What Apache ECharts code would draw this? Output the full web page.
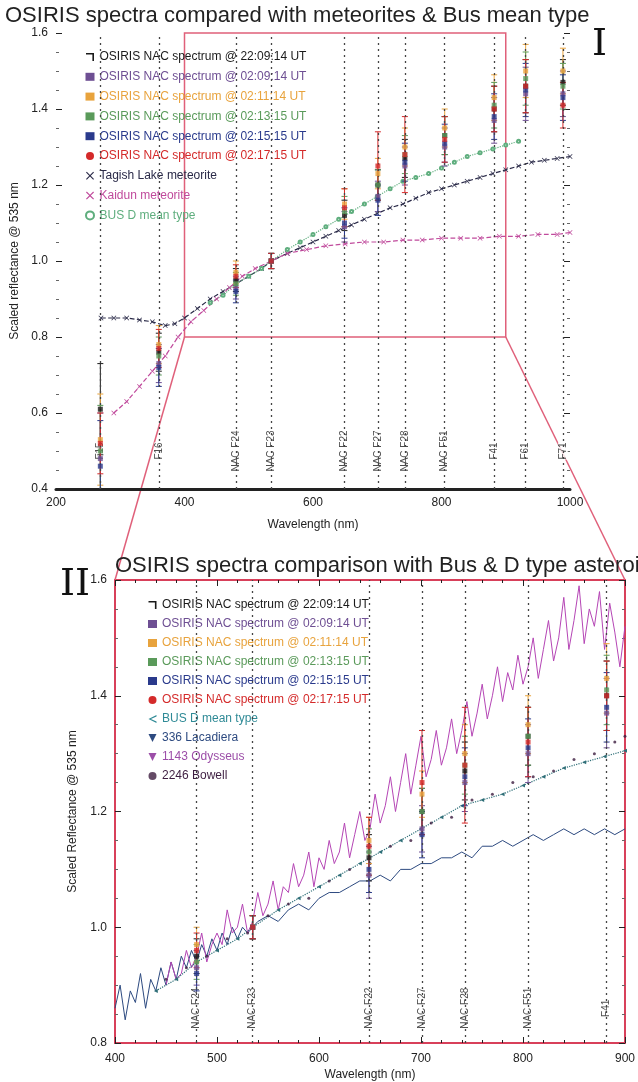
<!DOCTYPE html>
<html>
<head>
<meta charset="utf-8">
<script src="https://cdn.jsdelivr.net/npm/echarts@6/dist/echarts.min.js"></script>
<style>
  html, body { margin: 0; padding: 0; background: #fff; }
  #chart { width: 638px; height: 1082px; }
</style>
</head>
<body>
<div id="chart"></div>
<script>
// OSIRIS NAC filters
const filterNm = [269, 360, 480, 535, 649, 701, 743, 805, 882, 931, 989];
const filterLabel = ['F15', 'F16', 'NAC F24', 'NAC F23', 'NAC F22', 'NAC F27', 'NAC F28', 'NAC F51', 'F41', 'F61', 'F71'];

const osirisNames = [
  'OSIRIS NAC spectrum @ 22:09:14 UT',
  'OSIRIS NAC spectrum @ 02:09:14 UT',
  'OSIRIS NAC spectrum @ 02:11:14 UT',
  'OSIRIS NAC spectrum @ 02:13:15 UT',
  'OSIRIS NAC spectrum @ 02:15:15 UT',
  'OSIRIS NAC spectrum @ 02:17:15 UT'
];
const osirisColors = ['#1a1a1a', '#6e4f93', '#e8a33d', '#5a9a5a', '#2a3a8c', '#d42a2a'];

// scaled reflectance at each filter
const osiris1 = [0.61, 0.76, 0.95, 1.00, 1.12, 1.20, 1.27, 1.33, 1.40, 1.46, 1.47];
const osiris2 = [0.48, 0.73, 0.93, 1.00, 1.09, 1.17, 1.25, 1.30, 1.37, 1.44, 1.44];
const osiris3 = [0.53, 0.78, 0.97, 1.00, 1.15, 1.23, 1.30, 1.35, 1.43, 1.50, 1.50];
const osiris4 = [0.50, 0.75, 0.94, 1.00, 1.13, 1.20, 1.28, 1.33, 1.41, 1.48, 1.46];
const osiris5 = [0.46, 0.72, 0.92, 1.00, 1.10, 1.16, 1.26, 1.31, 1.38, 1.45, 1.43];
const osiris6 = [0.52, 0.77, 0.96, 1.00, 1.14, 1.25, 1.28, 1.32, 1.40, 1.46, 1.41];
const osirisErr = [0.12, 0.05, 0.03, 0.02, 0.04, 0.04, 0.05, 0.05, 0.06, 0.07, 0.06];
const osirisErrRed = [0.08, 0.05, 0.03, 0.02, 0.05, 0.09, 0.10, 0.06, 0.06, 0.07, 0.06];

// meteorites and Bus D mean
const tagishNm = [270, 290, 310, 330, 350, 370, 385, 400, 420, 440, 460, 480, 500, 520, 535, 560, 580, 600, 620, 640, 660, 680, 700, 720, 740, 760, 780, 800, 820, 840, 860, 880, 900, 920, 940, 960, 980, 1000];
const tagishRefl = [0.85, 0.85, 0.85, 0.845, 0.84, 0.83, 0.835, 0.85, 0.875, 0.90, 0.92, 0.94, 0.96, 0.98, 1.00, 1.02, 1.035, 1.05, 1.065, 1.08, 1.095, 1.11, 1.125, 1.14, 1.15, 1.165, 1.18, 1.19, 1.20, 1.21, 1.22, 1.23, 1.24, 1.25, 1.26, 1.265, 1.27, 1.275];

const kaidunNm = [290, 310, 330, 350, 370, 390, 410, 430, 450, 470, 490, 510, 535, 560, 590, 620, 650, 680, 710, 740, 770, 800, 830, 860, 890, 920, 950, 980, 1000];
const kaidunRefl = [0.60, 0.63, 0.67, 0.71, 0.75, 0.80, 0.84, 0.87, 0.90, 0.93, 0.96, 0.98, 1.00, 1.02, 1.03, 1.04, 1.045, 1.05, 1.05, 1.055, 1.055, 1.06, 1.06, 1.06, 1.065, 1.065, 1.07, 1.07, 1.075];

const busNm = [440, 460, 480, 500, 520, 535, 560, 580, 600, 620, 640, 660, 680, 700, 720, 740, 760, 780, 800, 820, 840, 860, 880, 900, 920];
const busRefl = [0.89, 0.91, 0.94, 0.96, 0.98, 1.00, 1.03, 1.05, 1.07, 1.09, 1.11, 1.13, 1.15, 1.17, 1.19, 1.21, 1.22, 1.23, 1.245, 1.26, 1.275, 1.285, 1.295, 1.305, 1.315];

// D-type asteroids (panel II)
const lacNm = [400, 405, 410, 415, 420, 425, 430, 435, 440, 445, 450, 455, 460, 465, 470, 475, 480, 485, 490, 495, 500, 505, 510, 515, 520, 525, 530, 535, 540, 550, 560, 570, 580, 590, 600, 610, 620, 630, 640, 650, 660, 670, 680, 690, 700, 710, 720, 730, 740, 750, 760, 770, 780, 790, 800, 810, 820, 830, 840, 850, 860, 870, 880, 890, 900];
const lacRefl = [0.86, 0.90, 0.84, 0.89, 0.87, 0.92, 0.86, 0.91, 0.89, 0.93, 0.90, 0.94, 0.91, 0.95, 0.93, 0.96, 0.94, 0.97, 0.95, 0.98, 0.96, 0.99, 0.97, 1.00, 0.98, 1.00, 0.99, 1.00, 1.01, 1.02, 1.01, 1.03, 1.04, 1.03, 1.05, 1.06, 1.06, 1.07, 1.08, 1.08, 1.09, 1.08, 1.10, 1.10, 1.11, 1.11, 1.12, 1.12, 1.13, 1.12, 1.14, 1.14, 1.15, 1.14, 1.15, 1.16, 1.15, 1.16, 1.17, 1.16, 1.17, 1.16, 1.17, 1.16, 1.17];

const odyNm = [450, 455, 460, 465, 470, 475, 480, 485, 490, 495, 500, 505, 510, 515, 520, 525, 530, 535, 540, 545, 550, 555, 560, 565, 570, 575, 580, 585, 590, 595, 600, 605, 610, 615, 620, 625, 630, 635, 640, 645, 650, 655, 660, 665, 670, 675, 680, 685, 690, 695, 700, 705, 710, 715, 720, 725, 730, 735, 740, 745, 750, 755, 760, 765, 770, 775, 780, 785, 790, 795, 800, 805, 810, 815, 820, 825, 830, 835, 840, 845, 850, 855, 860, 865, 870, 875, 880, 885, 890, 895, 900];
const odyRefl = [0.90, 0.94, 0.91, 0.92, 0.96, 0.93, 0.95, 0.99, 0.94, 0.97, 0.99, 0.97, 1.03, 0.99, 1.00, 1.04, 0.99, 1.01, 1.06, 1.02, 1.04, 1.08, 1.03, 1.07, 1.06, 1.11, 1.07, 1.09, 1.13, 1.07, 1.12, 1.10, 1.15, 1.11, 1.13, 1.18, 1.12, 1.16, 1.20, 1.15, 1.17, 1.23, 1.18, 1.21, 1.26, 1.20, 1.25, 1.30, 1.23, 1.28, 1.33, 1.26, 1.29, 1.34, 1.28, 1.31, 1.36, 1.30, 1.34, 1.39, 1.33, 1.37, 1.42, 1.36, 1.40, 1.45, 1.39, 1.44, 1.41, 1.47, 1.42, 1.45, 1.50, 1.43, 1.48, 1.53, 1.46, 1.50, 1.57, 1.48, 1.53, 1.59, 1.49, 1.55, 1.52, 1.58, 1.48, 1.56, 1.51, 1.45, 1.52];

const bowNm = [450, 470, 490, 510, 530, 550, 570, 590, 610, 630, 650, 670, 690, 710, 730, 750, 770, 790, 810, 830, 850, 870, 890, 900];
const bowRefl = [0.91, 0.93, 0.95, 0.98, 0.99, 1.02, 1.04, 1.05, 1.08, 1.10, 1.11, 1.14, 1.15, 1.18, 1.19, 1.22, 1.23, 1.25, 1.26, 1.27, 1.29, 1.30, 1.32, 1.33];

const FONT = 'Liberation Sans, Arial, sans-serif';
const BOX_RED = '#e0607a';
const FRAME_RED = '#d8405a';

const osirisSets = [osiris1, osiris2, osiris3, osiris4, osiris5, osiris6];

const pairs = (xs, ys) => xs.map((x, i) => [x, ys[i]]);

const errRender = (color) => (params, api) => {
  const x = api.value(0);
  const top = api.coord([x, api.value(2)]);
  const bot = api.coord([x, api.value(1)]);
  const w = 3;
  const style = { stroke: color, lineWidth: 1 };
  return {
    type: 'group',
    children: [
      { type: 'line', shape: { x1: top[0], y1: top[1], x2: bot[0], y2: bot[1] }, style },
      { type: 'line', shape: { x1: top[0] - w, y1: top[1], x2: top[0] + w, y2: top[1] }, style },
      { type: 'line', shape: { x1: bot[0] - w, y1: bot[1], x2: bot[0] + w, y2: bot[1] }, style }
    ]
  };
};

const osirisSeries = (xi, yi) => {
  const out = [];
  osirisSets.forEach((vals, k) => {
    const err = k === 5 ? osirisErrRed : osirisErr;
    out.push({
      name: osirisNames[k],
      type: 'custom',
      xAxisIndex: xi,
      yAxisIndex: yi,
      clip: true,
      silent: true,
      renderItem: errRender(osirisColors[k]),
      encode: { x: 0, y: [1, 2] },
      data: filterNm.map((nm, i) => [nm, vals[i] - err[i], vals[i] + err[i]]),
      z: 4
    });
    out.push({
      name: osirisNames[k],
      type: 'scatter',
      xAxisIndex: xi,
      yAxisIndex: yi,
      symbol: 'rect',
      symbolSize: 5,
      itemStyle: { color: osirisColors[k] },
      data: pairs(filterNm, vals),
      z: 5
    });
  });
  return out;
};

const filterSeries = (xi, yi, labelY, extra) => Object.assign({
  name: 'filters' + xi,
  type: 'scatter',
  xAxisIndex: xi,
  yAxisIndex: yi,
  symbolSize: 0,
  silent: true,
  data: filterNm.map((nm, i) => ({ value: [nm, labelY], name: filterLabel[i] })),
  label: {
    show: true,
    formatter: (p) => p.name,
    rotate: 90,
    position: 'inside',
    fontSize: 10,
    color: '#222',
    fontFamily: FONT,
    backgroundColor: '#fff'
  },
  markLine: {
    silent: true,
    symbol: 'none',
    label: { show: false },
    lineStyle: { type: [2, 4], color: '#444', width: 1.3 },
    data: filterNm.map((nm) => ({ xAxis: nm }))
  },
  z: 1
}, extra || {});

const crossPath = 'path://M0,1L1,0L5,4L9,0L10,1L6,5L10,9L9,10L5,6L1,10L0,9L4,5Z';
const hookPath = 'path://M0,0L10,0L10,10L8,10L8,2L0,2Z';
const chevronPath = 'path://M10,0L0,5L10,10L10,8L3,5L10,2Z';
const triDownPath = 'path://M0,0L10,0L5,10Z';

const legendItem = (name, icon, color) => ({
  name, icon, itemStyle: { color, borderColor: color }, textStyle: { color }
});

const chart = echarts.init(document.getElementById('chart'));

const valueAxisCommon = {
  type: 'value',
  splitLine: { show: false },
  axisLabel: { color: '#222', fontSize: 12, fontFamily: FONT },
  nameTextStyle: { color: '#222', fontSize: 12, fontFamily: FONT }
};

chart.setOption({
  animation: false,
  backgroundColor: '#fff',
  title: [
    {
      text: 'OSIRIS spectra compared with meteorites & Bus mean type',
      left: 0, top: 0,
      textStyle: { fontSize: 22, fontWeight: 'normal', color: '#222', fontFamily: FONT }
    },
    {
      text: 'OSIRIS spectra comparison with Bus & D type asteroids',
      left: 110, top: 550,
      textStyle: { fontSize: 22, fontWeight: 'normal', color: '#222', fontFamily: FONT }
    }
  ],
  grid: [
    { left: 56, right: 68, top: 33, height: 456 },
    { left: 115, right: 8, top: 580, height: 463, show: true, borderColor: FRAME_RED, borderWidth: 2, backgroundColor: 'rgba(0,0,0,0)' }
  ],
  legend: [
    {
      orient: 'vertical', left: 80, top: 45,
      itemWidth: 9, itemHeight: 8, itemGap: 5.8,
      selectedMode: false,
      textStyle: { fontSize: 12, lineHeight: 14, fontFamily: FONT },
      data: [
        legendItem(osirisNames[0], hookPath, osirisColors[0]),
        legendItem(osirisNames[1], 'rect', osirisColors[1]),
        legendItem(osirisNames[2], 'rect', osirisColors[2]),
        legendItem(osirisNames[3], 'rect', osirisColors[3]),
        legendItem(osirisNames[4], 'rect', osirisColors[4]),
        legendItem(osirisNames[5], 'circle', osirisColors[5]),
        legendItem('Tagish Lake meteorite', crossPath, '#2a2a48'),
        legendItem('Kaidun meteorite', crossPath, '#c04a9c'),
        legendItem('BUS D mean type', 'emptyCircle', '#5fae7e')
      ]
    },
    {
      orient: 'vertical', left: 143, top: 593,
      itemWidth: 9, itemHeight: 8, itemGap: 5,
      selectedMode: false,
      textStyle: { fontSize: 12, lineHeight: 14, fontFamily: FONT },
      data: [
        legendItem(osirisNames[0], hookPath, osirisColors[0]),
        legendItem(osirisNames[1], 'rect', osirisColors[1]),
        legendItem(osirisNames[2], 'rect', osirisColors[2]),
        legendItem(osirisNames[3], 'rect', osirisColors[3]),
        legendItem(osirisNames[4], 'rect', osirisColors[4]),
        legendItem(osirisNames[5], 'circle', osirisColors[5]),
        legendItem('BUS D mean type', chevronPath, '#2f8a96'),
        legendItem('336 Lacadiera', triDownPath, '#2d4a80'),
        legendItem('1143 Odysseus', triDownPath, '#9c4ea8'),
        legendItem('2246 Bowell', 'circle', '#3d1d40')
      ]
    }
  ],
  xAxis: [
    Object.assign({}, valueAxisCommon, {
      gridIndex: 0, min: 200, max: 1000, interval: 200,
      axisLine: { lineStyle: { color: '#222', width: 3 } },
      axisTick: { show: false },
      axisLabel: { color: '#222', fontSize: 12, fontFamily: FONT, formatter: (v) => String(v) },
      name: 'Wavelength (nm)', nameLocation: 'middle', nameGap: 30
    }),
    Object.assign({}, valueAxisCommon, {
      gridIndex: 1, min: 400, max: 900, interval: 100,
      axisLine: { show: false },
      axisTick: { inside: true, length: 6, lineStyle: { color: '#222' } },
      minorTick: { show: true, splitNumber: 5, length: 3, lineStyle: { color: '#222' } },
      axisLabel: { color: '#222', fontSize: 12, fontFamily: FONT, margin: 10 },
      name: 'Wavelength (nm)', nameLocation: 'middle', nameGap: 26
    }),
    Object.assign({}, valueAxisCommon, {
      gridIndex: 1, min: 400, max: 900, interval: 100, position: 'top',
      axisLine: { show: false },
      axisTick: { inside: true, length: 6, lineStyle: { color: '#222' } },
      minorTick: { show: true, splitNumber: 5, length: 3, lineStyle: { color: '#222' } },
      axisLabel: { show: false }
    })
  ],
  yAxis: [
    Object.assign({}, valueAxisCommon, {
      gridIndex: 0, min: 0.4, max: 1.6, interval: 0.2,
      axisLine: { show: false },
      axisTick: { inside: true, length: 6, lineStyle: { color: '#222' } },
      minorTick: { show: true, splitNumber: 4, length: 3, lineStyle: { color: '#666' } },
      axisLabel: { color: '#222', fontSize: 12, fontFamily: FONT, formatter: (v) => v.toFixed(1) },
      name: 'Scaled reflectance @ 535 nm', nameLocation: 'middle', nameGap: 34
    }),
    Object.assign({}, valueAxisCommon, {
      gridIndex: 0, min: 0.4, max: 1.6, interval: 0.2, position: 'right',
      axisLine: { show: false },
      axisTick: { inside: true, length: 6, lineStyle: { color: '#222' } },
      minorTick: { show: true, splitNumber: 4, length: 3, lineStyle: { color: '#666' } },
      axisLabel: { show: false }
    }),
    Object.assign({}, valueAxisCommon, {
      gridIndex: 1, min: 0.8, max: 1.6, interval: 0.2,
      axisLine: { show: false },
      axisTick: { inside: true, length: 6, lineStyle: { color: '#222' } },
      minorTick: { show: true, splitNumber: 4, length: 3, lineStyle: { color: '#666' } },
      axisLabel: { color: '#222', fontSize: 12, fontFamily: FONT, formatter: (v) => v.toFixed(1) },
      name: 'Scaled Reflectance @ 535 nm', nameLocation: 'middle', nameGap: 36
    }),
    Object.assign({}, valueAxisCommon, {
      gridIndex: 1, min: 0.8, max: 1.6, interval: 0.2, position: 'right',
      axisLine: { show: false },
      axisTick: { inside: true, length: 6, lineStyle: { color: '#222' } },
      minorTick: { show: true, splitNumber: 4, length: 3, lineStyle: { color: '#666' } },
      axisLabel: { show: false }
    })
  ],
  graphic: [
    { id: 'romanI', type: 'text', left: 592, top: 26, style: { text: 'I', font: '38px "DejaVu Serif", "Liberation Serif", serif', fill: '#111' } },
    { id: 'romanII', type: 'text', left: 60, top: 566, style: { text: 'II', font: '38px "DejaVu Serif", "Liberation Serif", serif', fill: '#111' } }
  ],
  series: [
    filterSeries(0, 0, 0.5, {
      markArea: {
        silent: true,
        itemStyle: { color: 'rgba(0,0,0,0)', borderColor: BOX_RED, borderWidth: 1.5 },
        data: [[{ xAxis: 400, yAxis: 0.8 }, { xAxis: 900, yAxis: 1.6 }]]
      }
    }),
    {
      name: 'Tagish Lake meteorite', type: 'line', xAxisIndex: 0, yAxisIndex: 0,
      data: pairs(tagishNm, tagishRefl),
      symbol: crossPath, symbolSize: 5, showAllSymbol: true,
      lineStyle: { color: '#2a2a48', width: 1.2, type: 'dashed' },
      itemStyle: { color: '#2a2a48' }, z: 3
    },
    {
      name: 'Kaidun meteorite', type: 'line', xAxisIndex: 0, yAxisIndex: 0,
      data: pairs(kaidunNm, kaidunRefl),
      symbol: crossPath, symbolSize: 5, showAllSymbol: true,
      lineStyle: { color: '#c04a9c', width: 1.2, type: 'dashed' },
      itemStyle: { color: '#c04a9c' }, z: 3
    },
    {
      name: 'BUS D mean type', type: 'line', xAxisIndex: 0, yAxisIndex: 0,
      data: pairs(busNm, busRefl),
      symbol: 'emptyCircle', symbolSize: 3, showAllSymbol: true,
      lineStyle: { color: '#5fae7e', width: 1.2, type: 'dotted' },
      itemStyle: { color: '#5fae7e' }, z: 3
    },
    ...osirisSeries(0, 0),

    filterSeries(1, 2, 0.86),
    {
      name: '336 Lacadiera', type: 'line', xAxisIndex: 1, yAxisIndex: 2,
      data: pairs(lacNm, lacRefl), showSymbol: false,
      lineStyle: { color: '#2d4a80', width: 1 }, itemStyle: { color: '#2d4a80' }, z: 2
    },
    {
      name: '1143 Odysseus', type: 'line', xAxisIndex: 1, yAxisIndex: 2,
      data: pairs(odyNm, odyRefl), showSymbol: false,
      lineStyle: { color: '#b545b5', width: 1 }, itemStyle: { color: '#b545b5' }, z: 2
    },
    {
      name: '2246 Bowell', type: 'scatter', xAxisIndex: 1, yAxisIndex: 2,
      data: pairs(bowNm, bowRefl), symbol: 'circle', symbolSize: 3,
      itemStyle: { color: '#3d1d40' }, z: 3
    },
    {
      name: 'BUS D mean type', type: 'line', xAxisIndex: 1, yAxisIndex: 2,
      data: pairs(busNm, busRefl),
      symbol: 'triangle', symbolRotate: 90, symbolSize: 4, showAllSymbol: true,
      lineStyle: { color: '#2f6f78', width: 1.2, type: 'dotted' },
      itemStyle: { color: '#2f6f78' }, z: 3
    },
    ...osirisSeries(1, 2)
  ]
});

// connector lines from the zoom box in panel I to the frame of panel II
const boxL = chart.convertToPixel({ xAxisIndex: 0, yAxisIndex: 0 }, [400, 0.8]);
const boxR = chart.convertToPixel({ xAxisIndex: 0, yAxisIndex: 0 }, [900, 0.8]);
const frameL = chart.convertToPixel({ xAxisIndex: 1, yAxisIndex: 2 }, [400, 1.6]);
const frameR = chart.convertToPixel({ xAxisIndex: 1, yAxisIndex: 2 }, [900, 1.6]);

chart.setOption({
  graphic: [
    { id: 'connL', type: 'line', shape: { x1: boxL[0], y1: boxL[1], x2: frameL[0], y2: frameL[1] }, style: { stroke: BOX_RED, lineWidth: 1.5 }, silent: true },
    { id: 'connR', type: 'line', shape: { x1: boxR[0], y1: boxR[1], x2: frameR[0], y2: frameR[1] }, style: { stroke: BOX_RED, lineWidth: 1.5 }, silent: true }
  ]
});
</script>
</body>
</html>
